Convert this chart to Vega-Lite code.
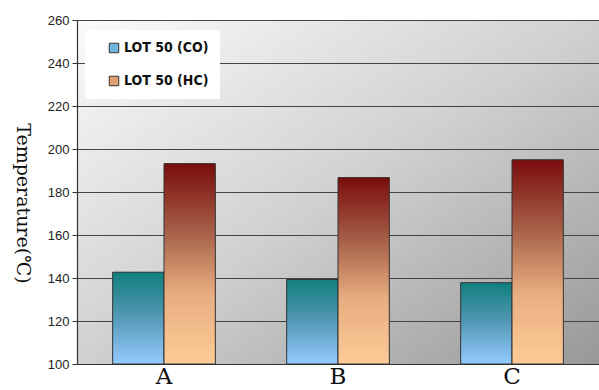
{
  "$schema": "https://vega.github.io/schema/vega-lite/v6.json",
  "width": 522,
  "height": 344,
  "autosize": {"type": "none"},
  "padding": {"left": 77, "top": 20, "right": 0, "bottom": 26},
  "background": "white",
  "config": {
    "view": {
      "stroke": null,
      "fill": {"gradient": "linear", "x1": 0, "y1": 0, "x2": 1, "y2": 1,
        "stops": [{"offset": 0, "color": "#fbfbfb"}, {"offset": 0.5, "color": "#d0d0d0"}, {"offset": 1, "color": "#989898"}]}
    }
  },
  "data": {
    "values": [
      {"cat": "A", "series": "LOT 50 (CO)", "temp": 142.7},
      {"cat": "A", "series": "LOT 50 (HC)", "temp": 193.2},
      {"cat": "B", "series": "LOT 50 (CO)", "temp": 139.3},
      {"cat": "B", "series": "LOT 50 (HC)", "temp": 186.7},
      {"cat": "C", "series": "LOT 50 (CO)", "temp": 137.8},
      {"cat": "C", "series": "LOT 50 (HC)", "temp": 195.0}
    ]
  },
  "encoding": {
    "x": {
      "field": "cat", "type": "nominal",
      "scale": {"paddingInner": 0.41, "paddingOuter": 0.205},
      "axis": {"title": null, "labelAngle": 0, "labelFont": "DejaVu Serif", "labelFontSize": 23,
        "labelColor": "#111111", "ticks": false, "domainColor": "#333333", "domainWidth": 1.2, "labelPadding": 1}
    },
    "xOffset": {"field": "series", "type": "nominal", "scale": {"paddingInner": 0}},
    "y": {
      "field": "temp", "type": "quantitative",
      "scale": {"domain": [100, 260], "nice": false, "zero": false},
      "axis": {
        "title": "Temperature(℃)", "titleFont": "DejaVu Serif", "titleFontSize": 19,
        "titleFontWeight": "normal", "titleColor": "#111111", "titleAngle": 90,
        "titleX": -55, "titleY": 183, "titleBaseline": "middle", "titleAlign": "center",
        "values": [100, 120, 140, 160, 180, 200, 220, 240, 260],
        "labelFont": "Liberation Sans", "labelFontSize": 13, "labelColor": "#222222", "labelPadding": 3,
        "tickColor": "#333333", "tickSize": 5, "domainColor": "#333333", "domainWidth": 1.2,
        "gridColor": "#444444", "gridWidth": 1.2
      }
    },
    "y2": {"datum": 100}
  },
  "layer": [
    {
      "mark": {"type": "bar", "clip": true},
      "encoding": {
        "color": {
          "field": "series", "type": "nominal",
          "scale": {"domain": ["LOT 50 (CO)", "LOT 50 (HC)"], "range": ["#6fb6e0", "#e0a070"]},
          "legend": {
            "title": null, "orient": "none", "legendX": 8, "legendY": 10,
            "fillColor": "white", "padding": 11, "symbolType": "square", "symbolSize": 90,
            "symbolStrokeColor": "#333333", "symbolStrokeWidth": 1, "symbolOffset": 11,
            "labelFont": "DejaVu Sans Condensed, Liberation Sans Narrow, Arial Narrow, sans-serif",
            "labelFontSize": 14, "labelFontWeight": "bold",
            "labelColor": "#111111", "rowPadding": 19, "labelOffset": 3
          }
        }
      }
    },
    {
      "transform": [{"filter": "datum.series === 'LOT 50 (CO)'"}],
      "mark": {"type": "bar", "clip": true, "stroke": "#333333", "strokeWidth": 1,
        "color": {"gradient": "linear", "x1": 0, "y1": 0, "x2": 0, "y2": 1,
          "stops": [{"offset": 0, "color": "#10807d"}, {"offset": 0.45, "color": "#4f95b0"}, {"offset": 1, "color": "#95cbff"}]}}
    },
    {
      "transform": [{"filter": "datum.series === 'LOT 50 (HC)'"}],
      "mark": {"type": "bar", "clip": true, "stroke": "#333333", "strokeWidth": 1,
        "color": {"gradient": "linear", "x1": 0, "y1": 0, "x2": 0, "y2": 1,
          "stops": [{"offset": 0, "color": "#7a0c0c"}, {"offset": 0.35, "color": "#a8634a"}, {"offset": 0.65, "color": "#e8ad80"}, {"offset": 1, "color": "#fdcb97"}]}}
    }
  ]
}
